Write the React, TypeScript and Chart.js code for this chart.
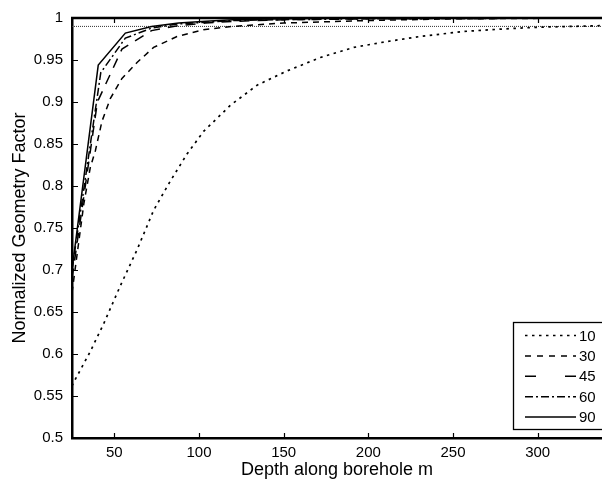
import React, { useEffect, useRef } from 'react';
import { Chart, registerables } from 'chart.js';

Chart.register(...registerables);

// ---- data ----
const seriesNames = ['10', '30', '45', '60', '90'];

const depth10 = [25, 27, 35.8, 43.7, 53.5, 63.4, 73.2, 83.1, 92.9, 102.7, 118.5, 134.3, 152, 171.7, 191.4, 211, 230.7, 256.3, 280, 300, 320, 340];
const factor10 = [0.562, 0.57, 0.603, 0.636, 0.681, 0.724, 0.771, 0.806, 0.838, 0.865, 0.896, 0.92, 0.937, 0.953, 0.965, 0.972, 0.978, 0.984, 0.987, 0.989, 0.99, 0.991];

const depth30 = [25, 32, 35.8, 38.8, 42.7, 47.6, 54.5, 63.4, 73.2, 87, 102.6, 120, 150, 200, 250, 340];
const factor30 = [0.673, 0.779, 0.822, 0.842, 0.877, 0.904, 0.928, 0.947, 0.965, 0.978, 0.986, 0.99, 0.994, 0.997, 0.999, 1.0];

const depth45 = [25, 40, 54.5, 72, 88, 104, 120, 150, 200, 340];
const factor45 = [0.69, 0.9, 0.963, 0.985, 0.991, 0.994, 0.996, 0.998, 0.999, 1.0];

const depth60 = [25, 42, 56.5, 72, 88, 104, 120, 150, 200, 340];
const factor60 = [0.7, 0.935, 0.976, 0.988, 0.993, 0.995, 0.997, 0.998, 0.999, 1.0];

const depth90 = [25, 40.5, 56.5, 72, 88, 104, 120, 150, 200, 250, 340];
const factor90 = [0.7, 0.944, 0.982, 0.99, 0.994, 0.996, 0.998, 0.999, 1.0, 1.0, 1.0];

const referenceDepth = [25, 340];
const referenceFactor = [0.99, 0.99];

const xTickValues = [50, 100, 150, 200, 250, 300];
const yTickValues = [0.5, 0.55, 0.6, 0.65, 0.7, 0.75, 0.8, 0.85, 0.9, 0.95, 1];

const xTitle = 'Depth along borehole m';
const yTitle = 'Normalized Geometry Factor';

// ---- styles ----
const FONT = '"Liberation Sans", Arial, sans-serif';
const dashStyles: number[][] = [[2.5, 4.5], [6, 5], [10, 8], [8, 3, 2, 3], []];
const legendDashStyles: number[][] = [[2.5, 4.5], [6, 6], [11, 29], [8, 3, 2, 3], []];
const lineWidths = [1.7, 1.5, 1.5, 1.5, 1.5];

const toPoints = (xs: number[], ys: number[]) => xs.map((x, i) => ({ x, y: ys[i] }));

const framePlugin = {
  id: 'frameAndLegend',
  afterDraw(chart: any) {
    const { ctx, chartArea: a, scales } = chart;
    const xs = scales.x;
    const ys = scales.y;
    ctx.save();
    ctx.strokeStyle = '#000';
    // top border
    ctx.lineWidth = 2.5;
    ctx.beginPath();
    ctx.moveTo(a.left - 1, a.top);
    ctx.lineTo(a.right + 2, a.top);
    ctx.stroke();
    // inward ticks
    ctx.lineWidth = 1.2;
    ctx.beginPath();
    xs.ticks.forEach((t: any) => {
      const px = Math.round(xs.getPixelForValue(t.value)) + 0.5;
      ctx.moveTo(px, a.bottom);
      ctx.lineTo(px, a.bottom - 5);
      ctx.moveTo(px, a.top);
      ctx.lineTo(px, a.top + 5);
    });
    ys.ticks.forEach((t: any) => {
      const py = Math.round(ys.getPixelForValue(t.value)) + 0.5;
      ctx.moveTo(a.left, py);
      ctx.lineTo(a.left + 6, py);
    });
    ctx.stroke();

    // legend box inside plot, bottom-right (extends past the right edge)
    const lx = a.right - 89;
    const ly = a.bottom - 116;
    const lw = 120;
    const lh = 107;
    ctx.fillStyle = '#fff';
    ctx.fillRect(lx, ly, lw, lh);
    ctx.lineWidth = 1.3;
    ctx.strokeRect(lx + 0.5, ly + 0.5, lw, lh);
    ctx.font = `15px ${FONT}`;
    ctx.textBaseline = 'middle';
    ctx.textAlign = 'left';
    ctx.fillStyle = '#000';
    chart.data.datasets.forEach((ds: any, i: number) => {
      if (ds.hideInLegend) return;
      const ry = ly + 13.5 + i * 20.4;
      ctx.save();
      ctx.lineWidth = ds.borderWidth;
      ctx.setLineDash(legendDashStyles[i] || []);
      ctx.beginPath();
      ctx.moveTo(lx + 12, ry);
      ctx.lineTo(lx + 63, ry);
      ctx.stroke();
      ctx.restore();
      ctx.fillText(ds.label, lx + 66, ry + 1);
    });
    ctx.restore();
  },
};

export default function App() {
  const ref = useRef<HTMLCanvasElement>(null);

  useEffect(() => {
    document.body.style.margin = '0';
    const seriesDepths = [depth10, depth30, depth45, depth60, depth90];
    const seriesFactors = [factor10, factor30, factor45, factor60, factor90];
    const datasets: any[] = seriesNames.map((name, i) => ({
      label: name,
      data: toPoints(seriesDepths[i], seriesFactors[i]),
      borderColor: '#000',
      borderWidth: lineWidths[i],
      borderDash: dashStyles[i],
      pointRadius: 0,
      tension: 0,
      fill: false,
    }));
    datasets.push({
      label: 'ref',
      hideInLegend: true,
      data: toPoints(referenceDepth, referenceFactor),
      borderColor: '#333',
      borderWidth: 1,
      borderDash: [1, 1],
      pointRadius: 0,
      fill: false,
    });

    const chart = new Chart(ref.current!, {
      type: 'line',
      data: { datasets },
      options: {
        animation: false,
        responsive: false,
        maintainAspectRatio: false,
        layout: { padding: { top: 12, right: 0, left: 0, bottom: 0 } },
        plugins: {
          legend: { display: false },
          tooltip: { enabled: false },
        },
        scales: {
          x: {
            type: 'linear',
            min: 25,
            max: 338,
            afterBuildTicks: (s: any) => {
              s.ticks = xTickValues.map((v) => ({ value: v }));
            },
            afterFit: (s: any) => {
              s.height = 45;
            },
            grid: { display: false, drawTicks: false },
            border: { display: true, color: '#000', width: 2.5 },
            ticks: {
              color: '#000',
              padding: 6,
              font: { family: FONT, size: 15 },
              maxRotation: 0,
            },
            title: {
              display: true,
              text: xTitle,
              color: '#000',
              font: { family: FONT, size: 18 },
              padding: { top: 0, bottom: 2 },
            },
          },
          y: {
            type: 'linear',
            min: 0.5,
            max: 1,
            afterBuildTicks: (s: any) => {
              s.ticks = yTickValues.map((v) => ({ value: v }));
            },
            afterFit: (s: any) => {
              s.width = 72;
            },
            grid: { display: false, drawTicks: false },
            border: { display: true, color: '#000', width: 2.5 },
            ticks: {
              color: '#000',
              padding: 9,
              font: { family: FONT, size: 15 },
              callback: (v: any) => String(Number(Number(v).toFixed(2))),
            },
            title: {
              display: true,
              text: yTitle,
              color: '#000',
              font: { family: FONT, size: 18 },
              padding: { top: 9, bottom: 0 },
            },
          },
        },
      } as any,
      plugins: [framePlugin],
    });
    return () => chart.destroy();
  }, []);

  return (
    <div style={{ width: 602, height: 483 }}>
      <canvas ref={ref} width={602} height={483} style={{ display: 'block' }} />
    </div>
  );
}
